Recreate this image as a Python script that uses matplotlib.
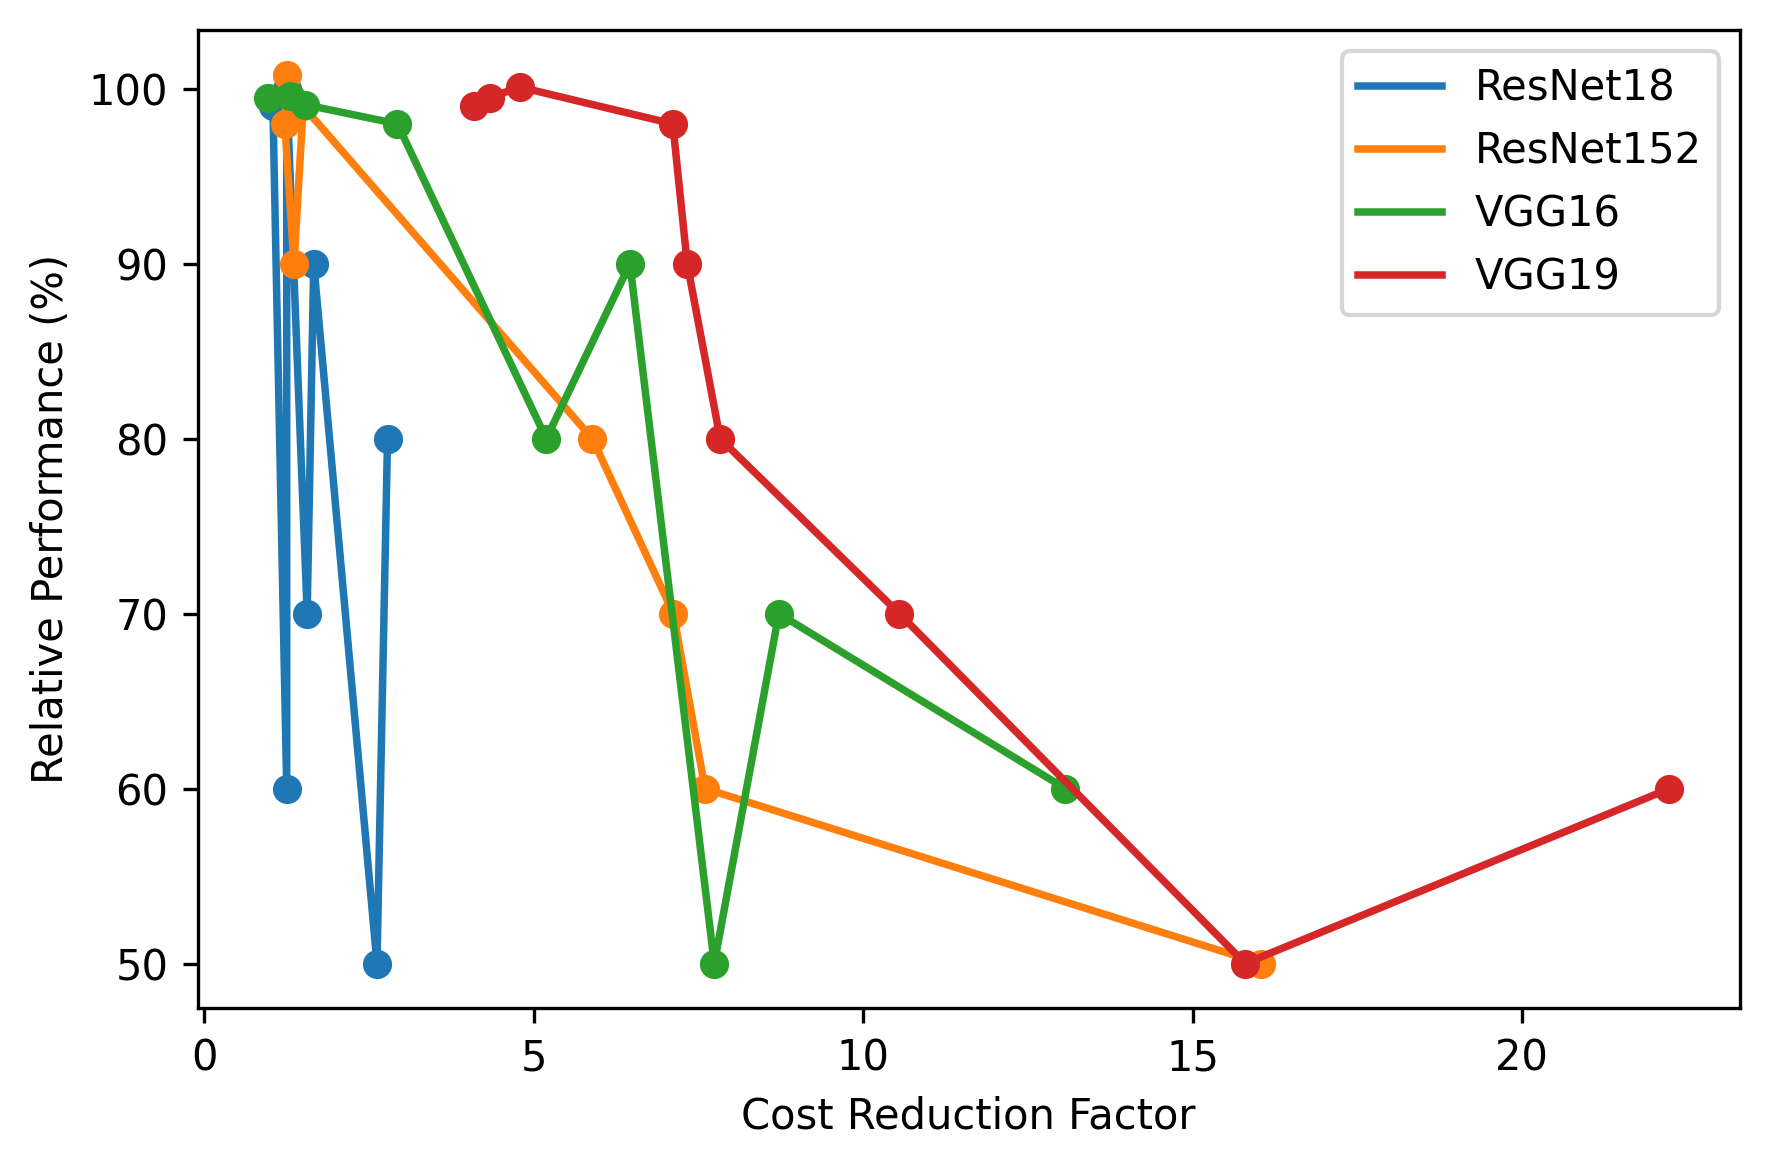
import matplotlib.pyplot as plt

# Cost reduction factor vs relative performance
models = ['ResNet18', 'ResNet152', 'VGG16', 'VGG19']
colors = ['tab:blue', 'tab:orange', 'tab:green', 'tab:red']

resnet18_x = [1.04, 1.25, 1.25, 1.56, 1.66, 2.62, 2.78]
resnet18_y = [99.0, 60.0, 100.0, 70.0, 90.0, 50.0, 80.0]

resnet152_x = [1.26, 1.22, 1.36, 1.50, 5.89, 7.12, 7.60, 16.04]
resnet152_y = [100.8, 98.0, 90.0, 99.0, 80.0, 70.0, 60.0, 50.0]

vgg16_x = [0.96, 1.30, 1.52, 2.93, 5.19, 6.46, 7.74, 8.72, 13.07]
vgg16_y = [99.5, 99.6, 99.1, 98.0, 80.0, 90.0, 50.0, 70.0, 60.0]

vgg19_x = [4.09, 4.33, 4.79, 7.11, 7.33, 7.83, 10.55, 15.80, 22.24]
vgg19_y = [99.0, 99.5, 100.1, 98.0, 90.0, 80.0, 70.0, 50.0, 60.0]

xs = [resnet18_x, resnet152_x, vgg16_x, vgg19_x]
ys = [resnet18_y, resnet152_y, vgg16_y, vgg19_y]

fig = plt.figure(figsize=(5.9, 3.9), dpi=300)
ax = fig.add_axes([0.1116, 0.1385, 0.8712, 0.8355])

for name, c, x, y in zip(models, colors, xs, ys):
    ax.plot(x, y, color=c, label=name, linewidth=1.8)
    ax.scatter(x, y, color=c, zorder=2)

ax.set_xlabel('Cost Reduction Factor')
ax.set_ylabel('Relative Performance (%)')
ax.legend(loc='upper right')

fig.savefig('out.png', dpi=300)
